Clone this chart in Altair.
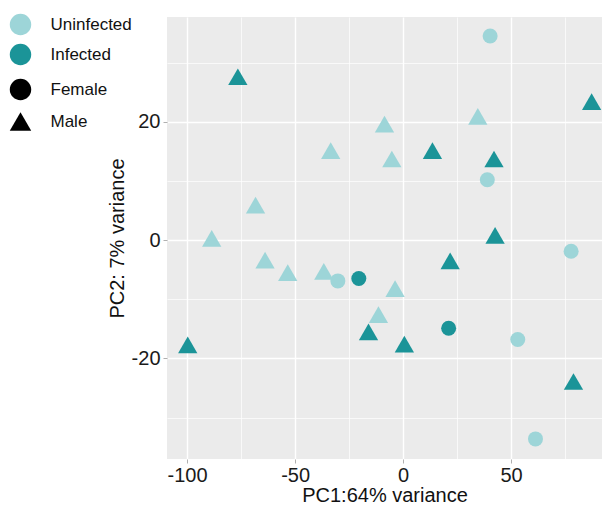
import altair as alt
import pandas as pd

pc1 = [40.3, -76.5, 87.3, 34.6, -8.6, -33.5, -5.2, 13.6, 42.1, 39.0, -68.3, -88.6, 42.6,
       77.8, 21.8, -63.9, -53.4, -36.7, -30.2, -20.5, -3.7, -11.4, -16.0, 0.6, 21.1, 53.1,
       -99.7, 78.9, 61.3]
pc2 = [34.5, 27.6, 23.4, 20.9, 19.6, 15.1, 13.7, 15.1, 13.7, 10.2, 5.9, 0.3, 0.8,
       -1.9, -3.5, -3.4, -5.5, -5.3, -6.9, -6.5, -8.2, -12.6, -15.5, -17.6, -14.9, -16.8,
       -17.7, -23.9, -33.6]
status = ["Uninfected", "Infected", "Infected", "Uninfected", "Uninfected", "Uninfected",
          "Uninfected", "Infected", "Infected", "Uninfected", "Uninfected", "Uninfected",
          "Infected", "Uninfected", "Infected", "Uninfected", "Uninfected", "Uninfected",
          "Uninfected", "Infected", "Uninfected", "Uninfected", "Infected", "Infected",
          "Infected", "Uninfected", "Infected", "Infected", "Uninfected"]
sex = ["Female", "Male", "Male", "Male", "Male", "Male", "Male", "Male", "Male", "Female",
       "Male", "Male", "Male", "Female", "Male", "Male", "Male", "Male", "Female", "Female",
       "Male", "Male", "Male", "Male", "Female", "Female", "Male", "Male", "Female"]

x_ticks = [-100, -75, -50, -25, 0, 25, 50, 75]
y_ticks = [-30, -20, -10, 0, 10, 20, 30]

df = pd.DataFrame({"PC1": pc1, "PC2": pc2, "status": status, "sex": sex})
df["sex_size"] = df["sex"]

FONT = "Liberation Sans"

chart = alt.Chart(df).mark_point(filled=True, opacity=1, strokeWidth=0).encode(
    x=alt.X("PC1:Q", scale=alt.Scale(domain=[-109.3, 92.1], nice=False, zero=False),
            axis=alt.Axis(values=x_ticks, title="PC1:64% variance",
                          labelExpr="datum.value % 50 == 0 ? '' + datum.value : ''",
                          gridWidth={"expr": "datum.value % 50 == 0 ? 1.4 : 0.7"},
                          tickOpacity={"expr": "datum.value % 50 == 0 ? 1 : 0"},
                          labelPadding=2, titlePadding=0)),
    y=alt.Y("PC2:Q", scale=alt.Scale(domain=[-37.0, 37.7], nice=False, zero=False),
            axis=alt.Axis(values=y_ticks, title="PC2: 7% variance",
                          labelExpr="datum.value % 20 == 0 ? '' + datum.value : ''",
                          gridWidth={"expr": "datum.value % 20 == 0 ? 1.4 : 0.7"},
                          tickOpacity={"expr": "datum.value % 20 == 0 ? 1 : 0"},
                          labelPadding=3, titlePadding=4)),
    color=alt.Color("status:N",
                    scale=alt.Scale(domain=["Uninfected", "Infected"],
                                    range=["#9dd5d8", "#1b9498"]),
                    legend=alt.Legend(title=None, orient="none", legendX=-157.5, legendY=-3.5,
                                      symbolType="circle", symbolSize=460,
                                      symbolStrokeWidth=0, labelOffset=19, rowPadding=8,
                                      padding=0, labelFontSize=17, labelFont=FONT,
                                      labelColor="#111")),
    shape=alt.Shape("sex:N",
                    scale=alt.Scale(domain=["Female", "Male"],
                                    range=["circle", "triangle-up"]),
                    legend=alt.Legend(title=None, orient="none", legendX=-157.5, legendY=61.5,
                                      symbolSize=460, symbolFillColor="black",
                                      symbolStrokeWidth=0, labelOffset=19, rowPadding=10,
                                      padding=0, labelFontSize=17, labelFont=FONT,
                                      labelColor="#111")),
    size=alt.Size("sex_size:N", scale=alt.Scale(range=[225, 372]), legend=None),
).properties(
    width=435, height=442,
    autosize=alt.AutoSizeParams(type="none"),
    padding={"left": 159, "top": 9, "right": 0, "bottom": 48},
).configure_view(
    fill="#ebebeb", stroke=None
).configure_axis(
    domain=False, gridColor="white", tickColor="#b0b0b0", tickSize=4,
    labelFont=FONT, labelFontSize=20, labelColor="#1a1a1a",
    titleFont=FONT, titleFontSize=20, titleFontWeight="normal", titleColor="#111",
)

chart.save("out.html", embed_options={"renderer": "svg", "actions": False})
